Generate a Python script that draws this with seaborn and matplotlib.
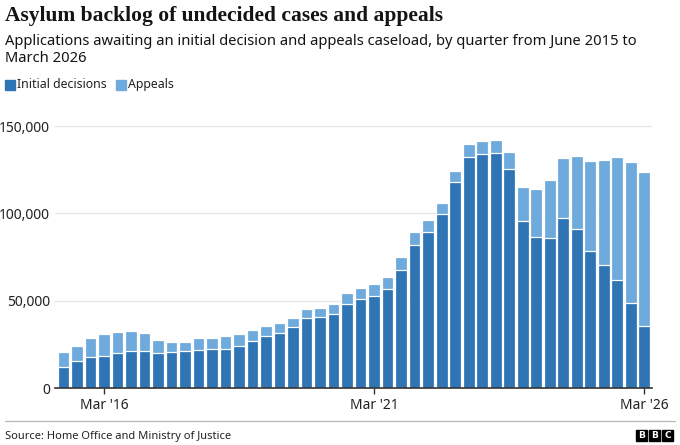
import numpy as np
import pandas as pd
import seaborn as sns
import matplotlib.pyplot as plt
from matplotlib.patches import Rectangle

# quarters Jun 2015 .. Mar 2026
quarters = [p.strftime("%b '%y") for p in pd.period_range("2015Q2", "2026Q1", freq="Q")]

initial = [12400, 15500, 17900, 18700, 20200, 21200, 21200, 20200, 20800, 21200,
           22100, 22300, 22700, 24200, 27300, 30000, 31800, 34900, 40100, 41000,
           42700, 48100, 51300, 52700, 56700, 67600, 82200, 89300, 99600, 118000,
           132300, 134200, 134600, 125400, 95600, 86500, 85900, 97400, 91000, 78800,
           70600, 62000, 48800, 35700]
appeals = [8200, 8700, 10700, 12200, 12000, 11400, 10500, 7300, 5900, 5500,
           6500, 6500, 7100, 6700, 5900, 5700, 5800, 5500, 5300, 5000,
           5400, 6300, 6300, 6900, 7200, 7400, 7100, 7100, 6500, 6000,
           7400, 7000, 7400, 9500, 19300, 27500, 33400, 34100, 42000, 51400,
           60200, 70100, 80600, 87800]

tick_labels = ["Mar '16", "Mar '21", "Mar '26"]
y_ticks = [0, 50000, 100000, 150000]

DARK = "#2f74b5"
LIGHT = "#6eaadc"

df = pd.DataFrame({"quarter": quarters, "initial": initial, "appeals": appeals})
df["total"] = df["initial"] + df["appeals"]

sns.set_theme(style="white")
plt.rcParams["font.family"] = ["Noto Sans", "DejaVu Sans"]

fig = plt.figure(figsize=(6.8, 4.45), dpi=100)
ax = fig.add_axes([55.4 / 680, 1 - 388.3 / 445, 597 / 680, 262.3 / 445])

# light bar = full backlog, dark bar drawn over it = initial decisions
sns.barplot(data=df, x="quarter", y="total", color=LIGHT, width=0.86,
            edgecolor="white", linewidth=0.9, saturation=1, ax=ax)
sns.barplot(data=df, x="quarter", y="initial", color=DARK, width=0.86,
            edgecolor="white", linewidth=0.9, saturation=1, ax=ax)

ax.set_xlim(-0.6, 43.6)
ax.set_ylim(0, 150000)
ax.set_yticks(y_ticks)
ax.set_yticklabels([f"{v:,}" for v in y_ticks])
ax.set_xticks([quarters.index(t) for t in tick_labels])
ax.set_xticklabels(tick_labels)
ax.yaxis.grid(True, color="#e6e6e6", linewidth=1)
ax.set_axisbelow(True)
for s in ["top", "right", "left"]:
    ax.spines[s].set_visible(False)
ax.spines["bottom"].set_color("#333333")
ax.spines["bottom"].set_linewidth(1.2)
ax.tick_params(axis="y", length=0, pad=4, labelsize=10, labelcolor="#222222")
ax.tick_params(axis="x", length=4, width=1, color="#333333", pad=3,
               labelsize=10, labelcolor="#222222", bottom=True)
ax.set_xlabel("")
ax.set_ylabel("")

# titles
fig.text(5 / 680, 1 - 16 / 445, "Asylum backlog of undecided cases and appeals",
         family="Liberation Serif", fontweight="bold", fontsize=15.5, color="#141414",
         va="center", ha="left")
fig.text(5 / 680, 1 - 50 / 445,
         "Applications awaiting an initial decision and appeals caseload, by quarter from June 2015 to\nMarch 2026",
         fontsize=10.6, color="#141414", va="center", ha="left", linespacing=1.15)

# legend
for x0, col, lab in [(5, DARK, "Initial decisions"), (116, LIGHT, "Appeals")]:
    fig.patches.append(Rectangle((x0 / 680, 1 - 89.5 / 445), 9.5 / 680, 10 / 445,
                                 transform=fig.transFigure, color=col))
    fig.text((x0 + 12) / 680, 1 - 84.5 / 445, lab, fontsize=8.9, color="#222222",
             va="center", ha="left")

# footer
fig.add_artist(plt.Line2D([5 / 680, 675 / 680], [1 - 421 / 445] * 2,
                          transform=fig.transFigure, color="#bbbbbb", linewidth=1))
fig.text(5 / 680, 1 - 436 / 445, "Source: Home Office and Ministry of Justice",
         fontsize=8, color="#222222", va="center", ha="left")
for i, letter in enumerate("BBC"):
    x0 = 636 + i * 13
    fig.patches.append(Rectangle((x0 / 680, 1 - 441 / 445), 11 / 680, 11 / 445,
                                 transform=fig.transFigure, color="black"))
    fig.text((x0 + 5.5) / 680, 1 - 435.5 / 445, letter, fontsize=6.5,
             fontweight="bold", color="white", va="center", ha="center",
             family="DejaVu Sans")

fig.savefig("out.png", dpi=100)
